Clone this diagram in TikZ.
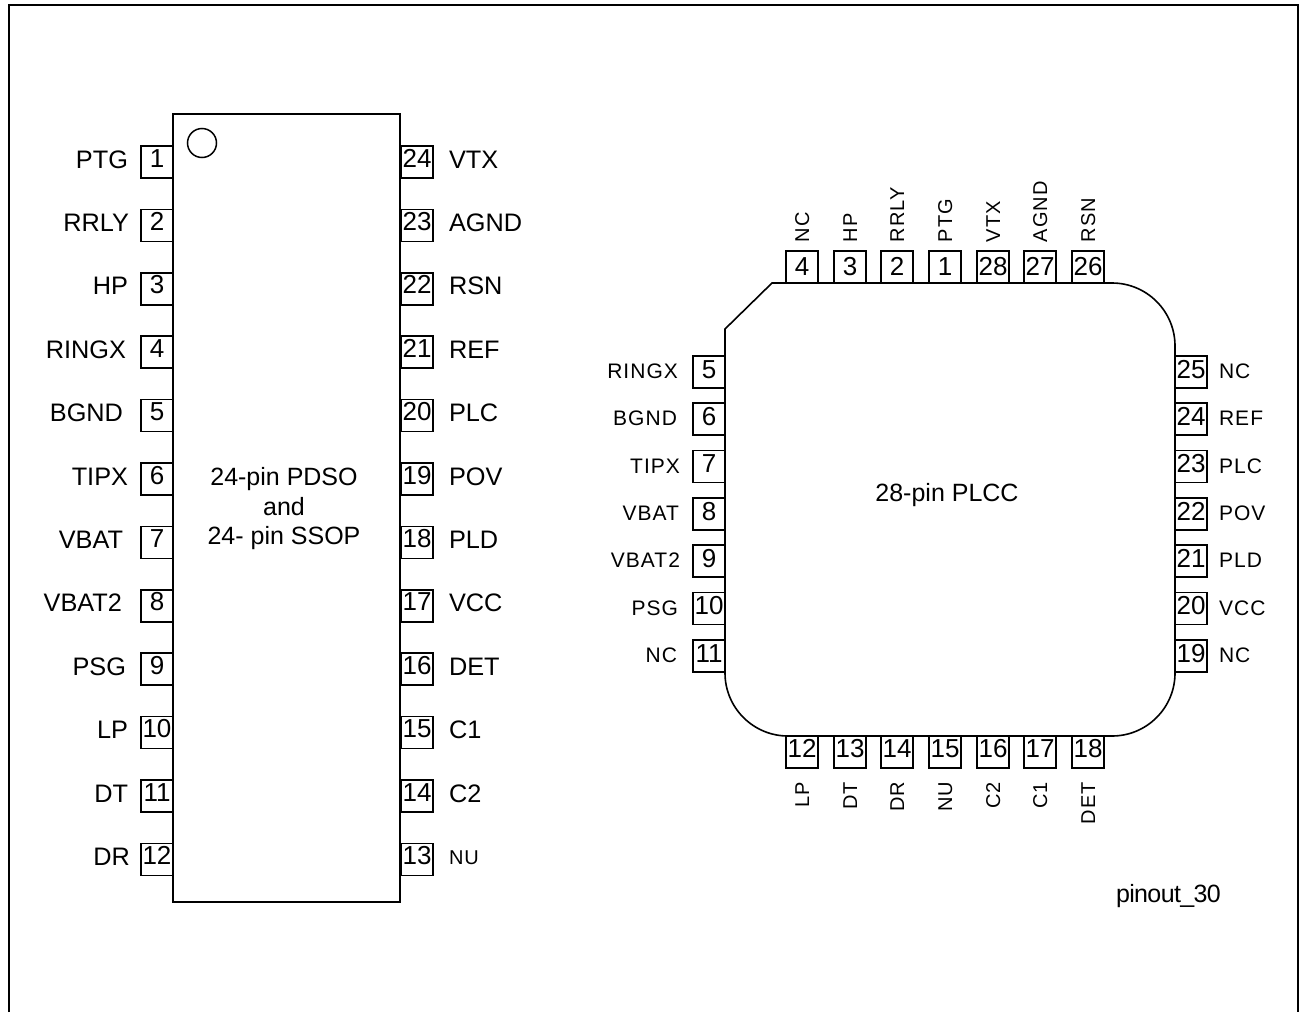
\documentclass[tikz,border=0pt]{standalone}
\usepackage{fontspec}
\setmainfont{Liberation Sans}
\newfontfamily\trackfont[LetterSpace=5]{Liberation Sans}
\newfontfamily\tightfont[LetterSpace=-2.5]{Liberation Sans}
\tikzset{
  x=1pt,y=-1pt,
  every node/.style={inner sep=0pt,outer sep=0pt,text=black},
  chipline/.style={draw=black,line width=1.6pt,line join=miter},
  framepath/.style={draw=black,line width=2pt},
  pinbox/.style={draw=black,fill=white,line width=1.5pt,minimum width=32pt,minimum height=32pt,
    font=\fontsize{26}{28}\selectfont},
  pinA/.style={pinbox,text height=14pt,text depth=4pt},
  pinB/.style={pinbox,text height=15pt,text depth=3pt},
  pinT/.style={pinbox,text height=17pt,text depth=1pt},
  biglabel/.style={font=\fontsize{25.3}{28}\selectfont},
  smalllabel/.style={font=\trackfont\fontsize{20}{24}\selectfont},
  sidelabel/.style={font=\trackfont\fontsize{21}{24}\selectfont},
  centertext/.style={font=\fontsize{25}{29.5}\selectfont,align=center,anchor=center},
}
\begin{document}
\begin{tikzpicture}
\useasboundingbox (0,0) rectangle (1300,1012);
\path[framepath] (9,1012) -- (9,5) -- (1298,5) -- (1298,1012);

% --- 24-pin package
\node[chipline,fill=white,minimum width=227pt,minimum height=788pt,anchor=north west] (chipA) at (173,114) {};
\node[draw=black,line width=1.5pt,circle,minimum size=29pt] (dot) at (202,143) {};
\node[centertext] (chipAtext) at (284,509) {24-pin PDSO\\and\\24- pin SSOP};

\foreach \n/\y/\t/\tx in {1/162/PTG/128,2/225.4/RRLY/129,3/288.8/HP/128,4/352.2/RINGX/126,
  5/415.6/BGND/123,6/479/TIPX/128,7/542.4/VBAT/123,8/605.8/VBAT2/122,9/669.2/PSG/126,
  10/732.6/LP/128,11/796/DT/128,12/859.5/DR/130}{
  \node[pinA] (a\n) at (157,\y) {\n};
  \node[biglabel,anchor=base east] (la\n) at (\tx,\y+6) {\t};
}
\foreach \n/\y/\t in {24/162/VTX,23/225.4/AGND,22/288.8/RSN,21/352.2/REF,20/415.6/PLC,19/479/POV,
  18/542.4/PLD,17/605.8/VCC,16/669.2/DET,15/732.6/C1,14/796/C2}{
  \node[pinA] (a\n) at (417,\y) {\n};
  \node[biglabel,anchor=base west] (la\n) at (449,\y+6) {\t};
}
\node[pinA] (a13) at (417,859.5) {13};
\node[smalllabel,anchor=base west] (la13) at (449,864) {NU};

% --- 28-pin package
\draw[chipline] (772,283) -- (1112,283) arc[start angle=-90,end angle=0,radius=63]
  -- (1175,673) arc[start angle=0,end angle=90,radius=63]
  -- (788,736) arc[start angle=90,end angle=180,radius=63]
  -- (725,329) -- cycle;
\node[centertext] (chipBtext) at (947,495) {28-pin PLCC};

\foreach \n/\x/\t in {4/802/NC,3/850/HP,2/897/RRLY,1/945/PTG,28/993/VTX,27/1040/AGND,26/1088/RSN}{
  \node[pinT] (b\n) at (\x,267) {\n};
  \node[smalllabel,rotate=90,anchor=base west] (lb\n) at (\x+7,242) {\t};
}
\foreach \n/\x/\t in {12/802/LP,13/850/DT,14/897/DR,15/945/NU,16/993/C2,17/1040/C1,18/1088/DET}{
  \node[pinA] (b\n) at (\x,752) {\n};
  \node[smalllabel,rotate=90,anchor=base east] (lb\n) at (\x+7,782) {\t};
}
\foreach \n/\y/\t/\tx in {5/372/RINGX/678,6/419/BGND/677,7/466.5/TIPX/680,8/514/VBAT/679,
  9/561/VBAT2/680,10/608.5/PSG/678,11/656/NC/677}{
  \node[pinB] (b\n) at (709,\y) {\n};
  \node[sidelabel,anchor=base east] (lb\n) at (\tx,\y+6.5) {\t};
}
\foreach \n/\y/\t in {25/372/NC,24/419/REF,23/466.5/PLC,22/514/POV,21/561/PLD,20/608.5/VCC,19/656/NC}{
  \node[pinB] (b\n) at (1191,\y) {\n};
  \node[sidelabel,anchor=base west] (lb\n) at (1219,\y+6.5) {\t};
}

\node[font=\tightfont\fontsize{25}{28}\selectfont,anchor=base west] (tag) at (1116,902) {pinout\_30};
\end{tikzpicture}
\end{document}
